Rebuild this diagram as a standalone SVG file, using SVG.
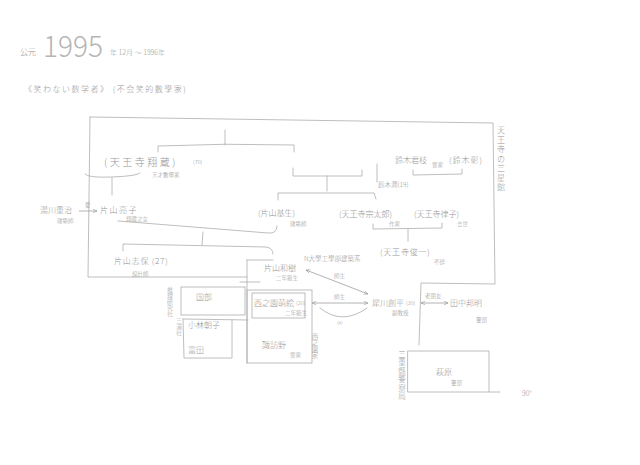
<svg xmlns="http://www.w3.org/2000/svg" width="640" height="465" viewBox="0 0 640 465">
<style>
text{font-family:"Noto Sans CJK JP","Noto Sans CJK TC",sans-serif;fill:#969696;font-weight:300;}
.n{font-size:10px;}
.s{font-size:5.5px;}
.m{font-size:8px;}
.v{font-size:6.5px;writing-mode:vertical-rl;}
.ln{fill:none;stroke:#adadad;stroke-width:0.8;stroke-linecap:round;}
.ar{fill:none;stroke:#a0a0a0;stroke-width:0.8;}
</style>
<defs>
<marker id="ah" viewBox="0 0 8 8" refX="7" refY="4" markerWidth="6" markerHeight="6" orient="auto-start-reverse"><path d="M0,1 L7,4 L0,7" fill="none" stroke="#999" stroke-width="1"/></marker>
</defs>
<rect width="640" height="465" fill="#ffffff"/>

<g id="title">
<text x="20" y="55" class="m">公元</text>
<text x="43" y="57" textLength="60" lengthAdjust="spacingAndGlyphs" style="font-size:30px;font-weight:200;fill:#b5b5b5">1995</text>
<text x="110" y="55" class="s" style="font-size:7px">年 12月 〜 1996年</text>
<text x="24" y="92" style="font-size:8px;letter-spacing:1.5px">《笑わない数学者》 (不会笑的數學家)</text>
</g>

<g id="connectors">
<path class="ln" d="M90,117 L493,123 L495,284 L421,283 L419,345"/>
<path class="ln" d="M90,117 L88,277 L247,277"/>
<path class="ln" d="M225,130 L225,145"/>
<path class="ln" d="M158,152 L158,146 Q225,143 294,145 L294,152"/>
<path class="ln" d="M85,174 Q87,178 112,177 Q138,176 140,173"/>
<path class="ln" d="M112,178 L112,195"/>
<path class="ln" d="M293,168 L293,176 L362,176 L362,170"/>
<path class="ln" d="M327,176 L327,191"/>
<path class="ln" d="M278,200 L278,193 L374,193 L376,199"/>
<path class="ln" d="M377,164 L377,182"/>
<path class="ln" d="M413,170 L413,175 L462,174 L462,169"/>
<path class="ln" d="M118,221 L268,233 Q277,234 277,226"/>
<path class="ln" d="M203,232 L202,245"/>
<path class="ln" d="M123,251 L123,244 L266,247 Q273,248 273,254"/>
<path class="ln" d="M373,224 L373,229 L442,228 L442,223"/>
<path class="ln" d="M408,229 L408,241"/>
<path class="ln" d="M247,260 L273,260 M247,260 L247,363"/>
<path class="ln" d="M240,282 L260,282"/>
<path class="ar" marker-end="url(#ah)" d="M79,211 L97,211"/>
<path class="ar" marker-start="url(#ah)" marker-end="url(#ah)" d="M306,270 L368,294"/>
<path class="ar" marker-start="url(#ah)" marker-end="url(#ah)" d="M312,303 L368,303"/>
<path class="ln" d="M320,308 Q342,326 367,308"/>
<path class="ar" marker-start="url(#ah)" marker-end="url(#ah)" d="M421,303 L448,303"/>
</g>

<g id="n-tennoji-shozo">
<text x="104" y="166" class="n" style="letter-spacing:2.5px">(天王寺翔蔵)</text><text x="193" y="164" class="s">(70)</text>
<text x="152" y="177" class="s">天才數學家</text>
</g>
<g id="n-suzuki-kimie">
<text x="395" y="163" class="m">鈴木君枝</text><text x="432" y="167" class="s">管家</text>
<text x="449" y="163" class="m" style="letter-spacing:1px">(鈴木彰)</text>
</g>
<g id="n-suzuki-jun">
<text x="378" y="187" class="s" style="font-size:6.5px">鈴木潤(19)</text>
</g>
<g id="n-yukawa">
<text x="40" y="213" class="m">湯川重治</text>
<text x="57" y="223" class="s">建築師</text>
<text x="85" y="207" class="s">愛</text>
</g>
<g id="n-katayama-ryoko">
<text x="100" y="213" class="m" style="letter-spacing:1.5px">片山亮子</text>
<text x="126" y="221" class="s">翔蔵之女</text>
</g>
<g id="n-katayama-motoo">
<text x="258" y="216" class="m">(片山基生)</text>
<text x="290" y="226" class="s">建築師</text>
</g>
<g id="n-tennoji-sotaro">
<text x="339" y="217" class="m">(天王寺宗太郎)</text>
<text x="389" y="226" class="s">作家</text>
</g>
<g id="n-tennoji-ritsuko">
<text x="414" y="217" class="m">(天王寺律子)</text>
<text x="457" y="226" class="s">去世</text>
</g>
<g id="n-tennoji-shunichi">
<text x="380" y="255" class="m" style="letter-spacing:0.8px">(天王寺俊一)</text>
<text x="434" y="264" class="s">不詳</text>
</g>
<g id="n-katayama-shiho">
<text x="114" y="264" class="m" style="letter-spacing:0.8px">片山志保 (27)</text>
<text x="132" y="276" class="s">設計師</text>
</g>
<g id="n-katayama-kazuki">
<text x="264" y="271" class="m">片山和樹</text>
<text x="276" y="280" class="s">二年級生</text>
<text x="304" y="261" class="s" style="font-size:6.5px">N大學工學部建築系</text>
<text x="334" y="278" class="s">師生</text>
</g>
<g id="n-nishinosono">
<rect x="247" y="290" width="65" height="73" class="ln"/>
<rect x="252" y="293" width="53" height="25" class="ln"/>
<text x="254" y="306" class="m">西之園萌絵</text><text x="296" y="305" class="s">(20)</text>
<text x="285" y="315" class="s">二年級生</text>
<text x="334" y="299" class="s">師生</text>
<text x="337" y="325" class="s">∞</text>
<text x="315" y="333" class="v">西之園家</text>
</g>
<g id="n-suwano">
<text x="262" y="348" class="m">諏訪野</text>
<text x="290" y="357" class="s">管家</text>
</g>
<g id="n-saikawa">
<text x="372" y="306" class="m">犀川創平</text><text x="406" y="305" class="s">(30)</text>
<text x="392" y="315" class="s">副教授</text>
<text x="425" y="298" class="s">老朋友</text>
</g>
<g id="n-tanaka">
<text x="450" y="306" class="m">田中邦明</text>
<text x="476" y="322" class="s">警部</text>
</g>
<g id="n-club">
<text x="170" y="287" class="v" style="font-size:6px">推理研究社</text>
<rect x="181" y="287" width="64" height="28" class="ln"/>
<text x="196" y="300" class="m">国部</text>
</g>
<g id="n-kobayashi">
<text x="179" y="318" class="v" style="font-size:6px">三浦社</text>
<path class="ln" d="M183,319 L248,320 M183,319 L184,358 L232,358 L232,320"/>
<text x="188" y="328" class="m">小林朝子</text>
<text x="188" y="353" class="m">富田</text>
</g>
<g id="n-hagiwara">
<text x="402" y="350" class="v" style="font-size:7.5px;letter-spacing:1px">三重縣警察局</text>
<path class="ln" d="M408,351 L489,351 L489,392 L408,392 Z M489,392 L500,392"/>
<text x="436" y="375" class="m">萩原</text>
<text x="451" y="385" class="s">警部</text>
</g>
<g id="side">
<text x="501" y="126" class="v" style="font-size:8px;letter-spacing:1.5px">天王寺の三星館</text>
<text x="522" y="396" class="s" style="font-size:7px">90°</text>
</g>
</svg>
